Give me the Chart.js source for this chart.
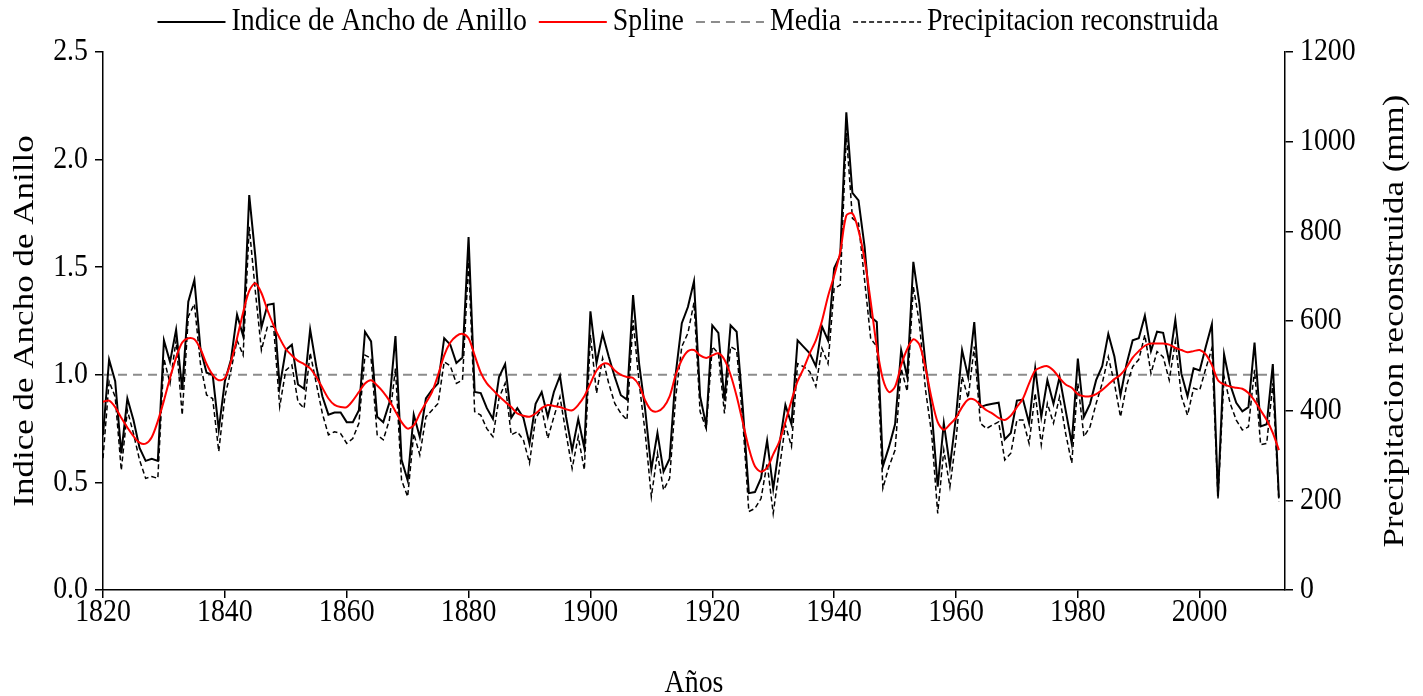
<!DOCTYPE html>
<html>
<head>
<meta charset="utf-8">
<script src="https://cdn.jsdelivr.net/npm/chart.js@4.4.1/dist/chart.umd.min.js"></script>
<style>
  body { margin: 0; background: #fff; }
</style>
</head>
<body>
<canvas id="grafica" width="1423" height="696"></canvas>
<script>
// Datos (1820-2013)
const primerAnio = 1820;

const indice = [
  0.72, 1.07, 0.97, 0.635, 0.89, 0.79, 0.66, 0.60, 0.61, 0.60,
  1.16, 1.06, 1.21, 0.93, 1.34, 1.44, 1.12, 1.01, 1.00, 0.745,
  0.97, 1.07, 1.28, 1.18, 1.835, 1.55, 1.22, 1.325, 1.33, 0.945,
  1.115, 1.14, 0.955, 0.935, 1.21, 1.04, 0.90, 0.815, 0.825, 0.825,
  0.78, 0.78, 0.835, 1.20, 1.155, 0.805, 0.78, 0.87, 1.18, 0.605,
  0.51, 0.815, 0.71, 0.89, 0.93, 0.96, 1.17, 1.14, 1.055, 1.08,
  1.64, 0.92, 0.915, 0.845, 0.795, 0.99, 1.05, 0.80, 0.845, 0.80,
  0.68, 0.865, 0.92, 0.805, 0.92, 0.995, 0.805, 0.65, 0.795, 0.66,
  1.295, 1.055, 1.19, 1.085, 0.99, 0.905, 0.885, 1.37, 1.05, 0.835,
  0.56, 0.73, 0.55, 0.61, 1.005, 1.24, 1.315, 1.435, 0.90, 0.765,
  1.23, 1.195, 0.88, 1.23, 1.20, 0.85, 0.45, 0.455, 0.52, 0.695,
  0.47, 0.67, 0.86, 0.77, 1.16, 1.13, 1.10, 1.04, 1.225, 1.16,
  1.495, 1.555, 2.22, 1.845, 1.81, 1.595, 1.27, 1.245, 0.575, 0.665,
  0.77, 1.115, 0.99, 1.525, 1.33, 1.05, 0.835, 0.48, 0.775, 0.575,
  0.805, 1.115, 0.99, 1.245, 0.85, 0.86, 0.865, 0.87, 0.70, 0.73,
  0.88, 0.885, 0.775, 1.03, 0.805, 0.975, 0.865, 0.99, 0.835, 0.68,
  1.075, 0.805, 0.865, 0.975, 1.04, 1.19, 1.085, 0.905, 1.05, 1.16,
  1.17, 1.275, 1.11, 1.20, 1.195, 1.06, 1.255, 1.005, 0.90, 1.03,
  1.02, 1.13, 1.235, 0.435, 1.095, 0.955, 0.87, 0.83, 0.85, 1.15,
  0.76, 0.77, 1.05, 0.43
];

const spline = [
  0.875, 0.88, 0.85, 0.80, 0.755, 0.715, 0.685, 0.68, 0.71, 0.785,
  0.88, 0.985, 1.08, 1.15, 1.17, 1.165, 1.12, 1.05, 1.00, 0.975,
  0.985, 1.06, 1.17, 1.29, 1.39, 1.425, 1.38, 1.30, 1.23, 1.17,
  1.12, 1.09, 1.065, 1.05, 1.03, 0.99, 0.94, 0.89, 0.86, 0.85,
  0.85, 0.88, 0.92, 0.96, 0.975, 0.95, 0.92, 0.88, 0.83, 0.78,
  0.75, 0.765, 0.82, 0.87, 0.92, 1.00, 1.09, 1.15, 1.18, 1.19,
  1.17, 1.09, 1.01, 0.96, 0.93, 0.90, 0.875, 0.85, 0.82, 0.81,
  0.805, 0.82, 0.845, 0.86, 0.855, 0.85, 0.84, 0.835, 0.86, 0.90,
  0.96, 1.02, 1.05, 1.05, 1.02, 1.00, 0.99, 0.985, 0.95, 0.88,
  0.835, 0.83, 0.85, 0.90, 1.00, 1.07, 1.11, 1.115, 1.09, 1.078,
  1.09, 1.10, 1.07, 1.00, 0.90, 0.78, 0.66, 0.575, 0.55, 0.568,
  0.63, 0.69, 0.78, 0.88, 0.97, 1.03, 1.10, 1.16, 1.25, 1.365,
  1.46, 1.57, 1.74, 1.75, 1.67, 1.535, 1.34, 1.13, 0.98, 0.92,
  0.945, 1.045, 1.12, 1.165, 1.14, 1.03, 0.89, 0.78, 0.745, 0.77,
  0.80, 0.85, 0.885, 0.885, 0.86, 0.835, 0.82, 0.80, 0.79, 0.81,
  0.85, 0.89, 0.96, 1.02, 1.035, 1.04, 1.02, 0.985, 0.955, 0.94,
  0.91, 0.90, 0.90, 0.91, 0.93, 0.955, 0.98, 1.00, 1.035, 1.08,
  1.11, 1.135, 1.145, 1.145, 1.145, 1.14, 1.125, 1.115, 1.105, 1.11,
  1.115, 1.095, 1.045, 0.975, 0.955, 0.945, 0.94, 0.935, 0.915, 0.88,
  0.835, 0.79, 0.73, 0.65
];

// Precipitación reconstruida (mm)
const precipitacion = [
  294, 465, 431, 267, 401, 349, 290, 249, 253, 249,
  516, 461, 557, 390, 610, 638, 504, 435, 427, 309,
  431, 490, 557, 524, 810, 667, 535, 588, 588, 409,
  490, 502, 420, 405, 529, 461, 394, 346, 353, 349,
  327, 338, 372, 524, 517, 346, 335, 379, 494, 245,
  208, 349, 301, 386, 401, 416, 509, 500, 461, 468,
  732, 398, 390, 360, 342, 428, 461, 346, 353, 335,
  283, 383, 405, 338, 386, 431, 349, 271, 342, 268,
  569, 439, 517, 461, 416, 394, 379, 602, 461, 349,
  208, 305, 223, 249, 431, 543, 573, 641, 398, 360,
  543, 528, 394, 543, 535, 379, 175, 182, 204, 283,
  171, 269, 368, 320, 505, 498, 487, 454, 539, 505,
  673, 680, 1019, 829, 818, 691, 561, 543, 227, 275,
  312, 494, 443, 677, 595, 446, 349, 171, 312, 230,
  335, 476, 428, 543, 372, 360, 368, 375, 290, 305,
  379, 379, 327, 439, 324, 416, 372, 431, 349, 283,
  461, 342, 364, 416, 461, 520, 461, 386, 456, 498,
  514, 569, 483, 532, 520, 468, 554, 432, 390, 450,
  446, 494, 539, 204, 476, 416, 379, 357, 364, 491,
  324, 327, 461, 197
];

const media = 1.0;

const anios = Array.from({ length: indice.length }, (_, i) => primerAnio + i);
const puntos = (valores) => anios.map((a, i) => ({ x: a, y: valores[i] }));

const fuente = "'Liberation Serif', 'Times New Roman', serif";
Chart.defaults.font.family = fuente;
Chart.defaults.font.size = 32;
Chart.defaults.color = "#000";

// El original tiene el texto estrechado en horizontal
const escalaX = 0.87;
const canvas = document.getElementById("grafica");
const ctx2d = canvas.getContext("2d");
const fillTextOriginal = ctx2d.fillText.bind(ctx2d);
ctx2d.fillText = function (text, x, y, maxWidth) {
  const m = this.getTransform();
  const p = m.transformPoint(new DOMPoint(x, y));
  const t = new DOMMatrix()
    .translate(p.x, p.y)
    .scale(escalaX, 1)
    .translate(-p.x, -p.y)
    .multiply(m);
  this.save();
  this.setTransform(t);
  fillTextOriginal(text, x, y);
  this.restore();
};

// Leyenda dibujada a mano (líneas como en Excel)
const leyenda = {
  id: "leyenda",
  afterDraw(chart) {
    const ctx = chart.ctx;
    const orden = [1, 0, 3, 2];
    const muestra = 68, hueco = 6, sep = 12;
    ctx.save();
    ctx.font = "32px " + fuente;
    const ancho = (t) => ctx.measureText(t).width * escalaX;
    let total = 0;
    orden.forEach((i) => {
      total += muestra + hueco + ancho(chart.data.datasets[i].label);
    });
    total += sep * (orden.length - 1);
    let x = 688 - total / 2;
    const y = 22;
    orden.forEach((i) => {
      const ds = chart.data.datasets[i];
      ctx.beginPath();
      ctx.setLineDash(ds.borderDash || []);
      ctx.lineWidth = ds.borderWidth;
      ctx.strokeStyle = ds.borderColor;
      ctx.moveTo(x, y);
      ctx.lineTo(x + muestra, y);
      ctx.stroke();
      ctx.setLineDash([]);
      x += muestra + hueco;
      ctx.fillStyle = "#000";
      ctx.textBaseline = "middle";
      ctx.textAlign = "left";
      ctx.fillText(ds.label, x, y);
      x += ancho(ds.label) + sep;
    });
    ctx.restore();
  },
};

// Título del eje derecho (leído de abajo hacia arriba)
const tituloDerecho = {
  id: "tituloDerecho",
  afterDraw(chart) {
    const ctx = chart.ctx;
    const area = chart.chartArea;
    ctx.save();
    ctx.font = "35px " + fuente;
    ctx.fillStyle = "#000";
    ctx.translate(1395, (area.top + area.bottom) / 2);
    ctx.rotate(-Math.PI / 2);
    ctx.textAlign = "center";
    ctx.textBaseline = "middle";
    ctx.fillText("Precipitacion reconstruida (mm)", 0, 0);
    ctx.restore();
  },
};

const config = {
  type: "line",
  data: {
    datasets: [
      {
        label: "Spline",
        data: puntos(spline),
        borderColor: "#ff0000",
        borderWidth: 2,
        tension: 0.3,
        yAxisID: "y",
        order: 0,
      },
      {
        label: "Indice de Ancho de Anillo",
        data: puntos(indice),
        borderColor: "#000",
        borderWidth: 2,
        yAxisID: "y",
        order: 1,
      },
      {
        label: "Precipitacion reconstruida",
        data: puntos(precipitacion),
        borderColor: "#000",
        borderWidth: 1.5,
        borderDash: [5, 3],
        yAxisID: "y1",
        order: 2,
      },
      {
        label: "Media",
        data: anios.map((a) => ({ x: a, y: media })),
        borderColor: "#8c8c8c",
        borderWidth: 2,
        borderDash: [9, 6],
        yAxisID: "y",
        order: 3,
      },
    ],
  },
  options: {
    responsive: false,
    animation: false,
    layout: { padding: { top: 52, left: 0, right: 0, bottom: 0 } },
    elements: { point: { radius: 0 }, line: { tension: 0 } },
    plugins: { legend: { display: false }, tooltip: { enabled: false } },
    scales: {
      x: {
        type: "linear",
        min: 1820,
        max: 2014,
        border: { display: true, color: "#000", width: 1.5 },
        grid: { drawOnChartArea: false, drawTicks: true, tickLength: 8, color: "#000", lineWidth: 1.5 },
        ticks: {
          stepSize: 20,
          includeBounds: false,
          padding: -5,
          maxRotation: 0,
          callback: (v) => String(v),
        },
        title: { display: true, text: "Años", padding: { top: 0, bottom: -7 } },
        afterFit: (s) => { s.height = 106; },
      },
      y: {
        position: "left",
        min: 0,
        max: 2.5,
        border: { display: true, color: "#000", width: 1.5 },
        grid: { drawOnChartArea: false, drawTicks: true, tickLength: 8, color: "#000", lineWidth: 1.5 },
        ticks: { stepSize: 0.5, padding: 7, callback: (v) => v.toFixed(1) },
        title: {
          display: true,
          text: "Indice de Ancho de Anillo",
          font: { size: 35 },
          padding: { top: 4, bottom: 0 },
        },
        afterFit: (s) => { s.width = 103; },
      },
      y1: {
        position: "right",
        min: 0,
        max: 1200,
        border: { display: true, color: "#000", width: 1.5 },
        grid: { drawOnChartArea: false, drawTicks: true, tickLength: 8, color: "#000", lineWidth: 1.5 },
        ticks: { stepSize: 200, padding: 7, callback: (v) => String(v) },
        afterFit: (s) => { s.width = 138; },
      },
    },
  },
  plugins: [leyenda, tituloDerecho],
};

new Chart(canvas, config);
</script>
</body>
</html>
